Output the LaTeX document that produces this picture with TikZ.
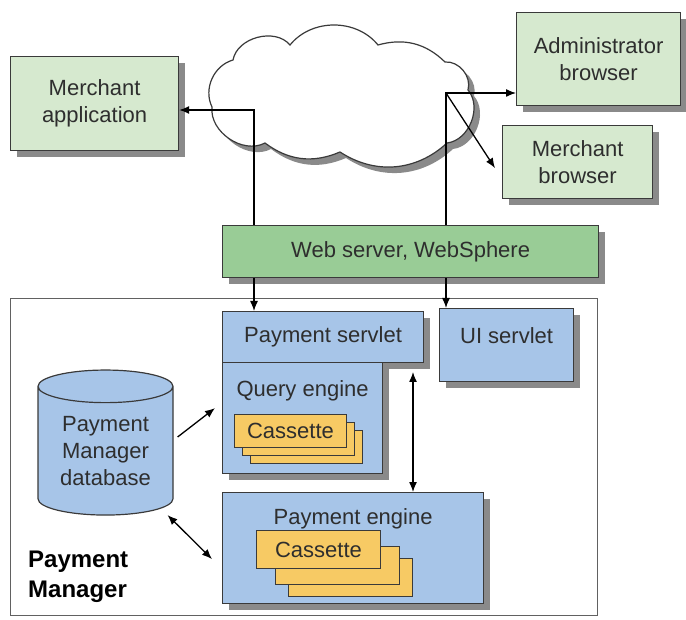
\documentclass[tikz,border=0pt]{standalone}
\usepackage{fontspec}
\setmainfont{Liberation Sans}
\usetikzlibrary{positioning, arrows.meta, shapes.geometric, shadows, calc}
\definecolor{pmPaleGreen}{HTML}{D6E9CF}
\definecolor{pmGreen}{HTML}{99CC96}
\definecolor{pmBlue}{HTML}{A7C5E8}
\definecolor{pmYellow}{HTML}{F7CA64}
\definecolor{pmLine}{HTML}{3A3A3A}
\definecolor{pmText}{HTML}{2E2E2E}
\definecolor{pmShadow}{HTML}{8A8A8A}

\begin{document}
\begin{tikzpicture}[x=1pt, y=-1pt, font=\fontsize{22}{27}\selectfont, text=pmText,
    box/.style={draw=pmLine, line width=1.2pt, inner sep=0pt, anchor=north west, align=center},
    shadowed/.style={drop shadow={shadow xshift=6pt, shadow yshift=-6pt, fill=pmShadow, opacity=1}},
    cassette/.style={box, fill=pmYellow, line width=1pt},
    conn/.style={-{Latex[length=10pt,width=8pt]}, line width=1.3pt, black},
    dconn/.style={{Latex[length=10pt,width=8pt]}-{Latex[length=10pt,width=8pt]}, line width=1.3pt, black}]
  \useasboundingbox (0,0) rectangle (686,620);

  % internet cloud
  \draw[pmLine, line width=1.2pt, fill=white, shadowed]
    (233,60) to[bend left=65] (290,45) to[bend left=51] (378,45)
    to[bend left=30] (445,62) to[bend left=55] (468,90)
    to[bend left=62] (447,143) to[bend left=38] (340,152)
    to[bend left=30] (265,143) to[bend left=62] (212,107)
    to[bend left=50] (233,60) -- cycle;

  % outside clients
  \node[box, shadowed, fill=pmPaleGreen, minimum width=168pt, minimum height=94pt] (mapp)
    at (10,56) {Merchant\\application};
  \node[box, shadowed, fill=pmPaleGreen, minimum width=164pt, minimum height=93pt] (admin)
    at (516,12) {Administrator\\browser};
  \node[box, shadowed, fill=pmPaleGreen, minimum width=150pt, minimum height=73pt] (mbrow)
    at (502,125) {Merchant\\browser};

  \node[box, shadowed, fill=pmGreen, minimum width=376pt, minimum height=52pt] (ws)
    at (222,225) {Web server, WebSphere};

  % payment manager
  \node[box, draw=pmLine!80, minimum width=587pt, minimum height=317pt] (pmgr) at (10,298) {};
  \node[anchor=north west, inner sep=0pt, align=left, text=black,
        font=\fontsize{24}{30}\selectfont\bfseries] (pmlabel) at (28,551) {Payment\\Manager};

  \node[box, shadowed, fill=pmBlue, minimum width=201pt, minimum height=51pt] (psrv)
    at (222,311) {Payment servlet};
  \node[box, shadowed, fill=pmBlue, minimum width=160pt, minimum height=111pt,
        label={[anchor=north, yshift=-18pt, inner sep=0pt]north:Query engine}] (qe)
    at (222,362) {};
  \node[box, shadowed, fill=pmBlue, minimum width=134pt, minimum height=73pt,
        label={[anchor=north, yshift=-19pt, inner sep=0pt]north:UI servlet}] (ui)
    at (439,308) {};
  \node[box, shadowed, fill=pmBlue, minimum width=261pt, minimum height=111pt,
        label={[anchor=north, yshift=-16pt, inner sep=0pt]north:Payment engine}] (peng)
    at (222,492) {};

  \node[cassette, minimum width=112pt, minimum height=33pt] (qcas3) at (250,430) {};
  \node[cassette, minimum width=112pt, minimum height=33pt] (qcas2) at (242,422) {};
  \node[cassette, minimum width=112pt, minimum height=33pt] (qcas1) at (234,414) {Cassette};

  \node[cassette, minimum width=124pt, minimum height=38pt] (pcas3) at (288,558) {};
  \node[cassette, minimum width=124pt, minimum height=38pt] (pcas2) at (275,546) {};
  \node[cassette, minimum width=124pt, minimum height=38pt] (pcas1) at (256,530) {Cassette};

  \node[box, cylinder, shape border rotate=90, aspect=0.36, anchor=center,
        minimum width=135pt, minimum height=145pt, fill=pmBlue] (db)
    at (105.5,451) {Payment\\Manager\\database};

  % connectors
  \coordinate (appturn) at (254,110);
  \coordinate (brturn) at (446,93);
  \coordinate (englink) at (413,372);
  \draw[conn] (ws.north -| appturn) -- (appturn) -- (appturn -| mapp.east);
  \draw[conn] (ws.north -| brturn) -- (brturn) -- (brturn -| admin.west);
  \draw[conn] (brturn) -- ([shift={(-7,6)}]mbrow.west);
  \draw[conn] (ws.south -| appturn) -- (appturn |- psrv.north);
  \draw[conn] (ws.south -| brturn) -- (brturn |- ui.north);
  \draw[dconn] (englink) -- (englink |- peng.north);
  \draw[conn] ([shift={(4,-14)}]db.east) -- ([shift={(-7,-10)}]qe.west);
  \draw[dconn] ([shift={(62,64)}]db.center) -- ([shift={(-10,11)}]peng.west);
\end{tikzpicture}
\end{document}
